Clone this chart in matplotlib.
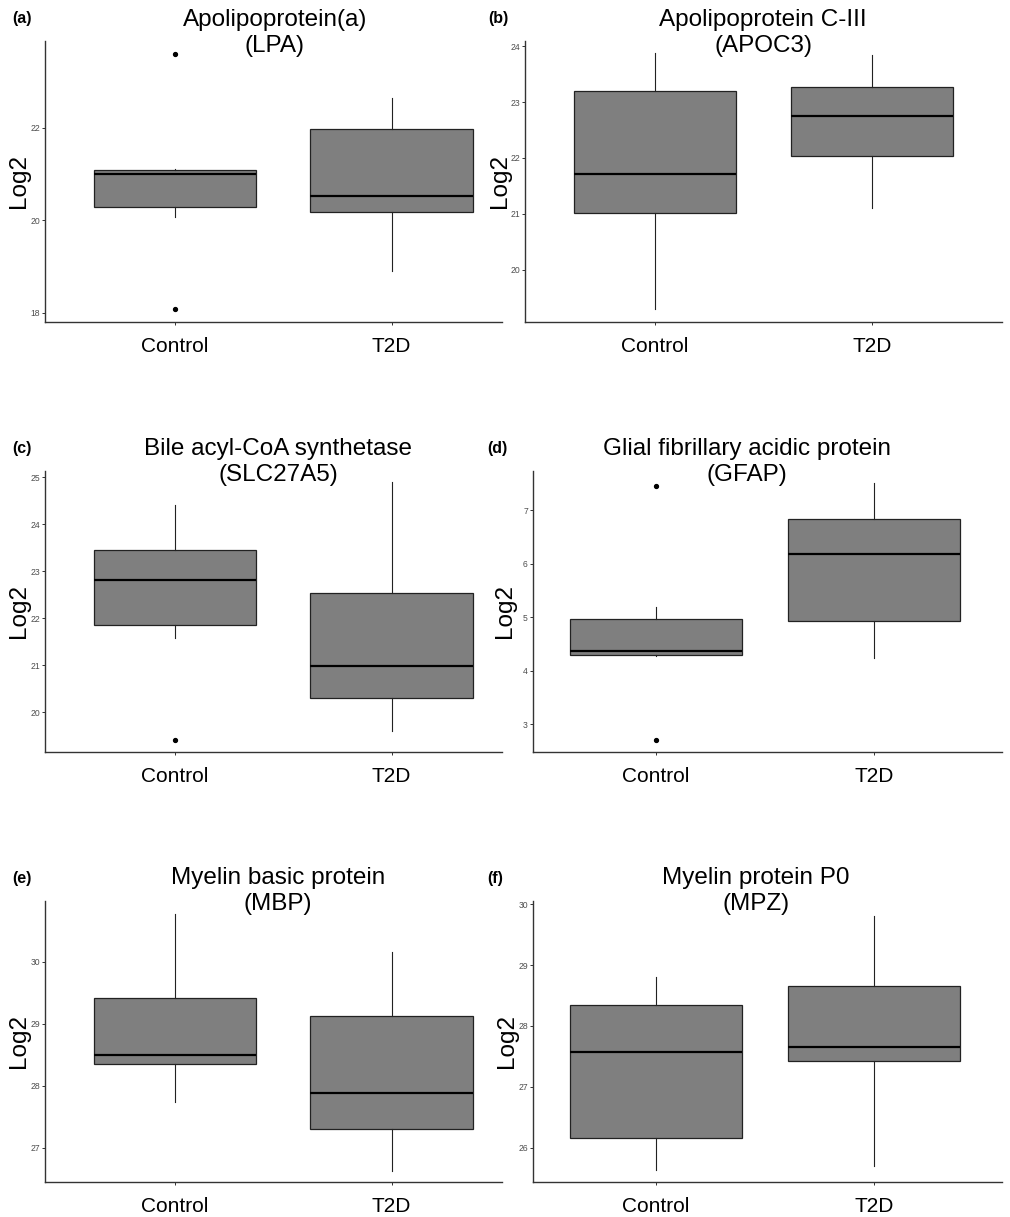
import matplotlib
matplotlib.use("Agg")
import matplotlib.pyplot as plt

plt.rcParams['font.family'] = ['Liberation Sans', 'DejaVu Sans']

groups = ["Control", "T2D"]

titles = ["Apolipoprotein(a)\n(LPA)", "Apolipoprotein C-III\n(APOC3)",
          "Bile acyl-CoA synthetase\n(SLC27A5)", "Glial fibrillary acidic protein\n(GFAP)",
          "Myelin basic protein\n(MBP)", "Myelin protein P0\n(MPZ)"]
panel_tags = ["(a)", "(b)", "(c)", "(d)", "(e)", "(f)"]

# box statistics per panel: [Control, T2D]
q1 = [[20.29, 20.18], [21.02, 22.03], [21.85, 20.30], [4.30, 4.93], [28.35, 27.31], [26.16, 27.42]]
med = [[21.00, 20.53], [21.72, 22.75], [22.82, 20.98], [4.37, 6.18], [28.50, 27.89], [27.57, 27.66]]
q3 = [[21.09, 21.97], [23.20, 23.27], [23.45, 22.53], [4.97, 6.83], [29.42, 29.13], [28.34, 28.66]]
whislo = [[20.08, 18.90], [19.30, 21.10], [21.57, 19.60], [4.27, 4.23], [27.74, 26.63], [25.63, 25.70]]
whishi = [[21.12, 22.64], [23.88, 23.84], [24.40, 24.90], [5.18, 7.50], [30.77, 30.15], [28.80, 29.81]]
fliers = [[[23.60, 18.08], []], [[], []], [[19.40], []], [[7.45, 2.70], []], [[], []], [[], []]]

yticks = [[18, 20, 22], [20, 21, 22, 23, 24], [20, 21, 22, 23, 24, 25],
          [3, 4, 5, 6, 7], [27, 28, 29, 30], [26, 27, 28, 29, 30]]
ytick_labels = [["18", "20", "22"], ["20", "21", "22", "23", "24"],
                ["20", "21", "22", "23", "24", "25"], ["3", "4", "5", "6", "7"],
                ["27", "28", "29", "30"], ["26", "27", "28", "29", "30"]]
ylims = [(17.80, 23.88), (19.07, 24.09), (19.15, 25.13), (2.48, 7.73), (26.45, 30.98), (25.44, 30.05)]

W, H = 1010, 1217
fig = plt.figure(figsize=(W / 100, H / 100), dpi=100)

# layout in pixels: left, top, right, bottom
boxes_px = [(45, 41, 502, 322), (525, 41, 1002, 322),
            (45, 471, 502, 752), (533, 471, 1002, 752),
            (45, 901, 502, 1182), (533, 901, 1002, 1182)]
xlims = [(0.4, 2.51), (0.4, 2.6), (0.4, 2.51), (0.436, 2.587), (0.4, 2.51), (0.436, 2.587)]
widths = [0.75, 0.75, 0.75, 0.79, 0.75, 0.79]
title_x = [275, 763, 278, 747, 278, 756]
title_dy = [8, 8, 9, 9, 10, 10]
tag_pos = [(12, 18), (488, 18), (12, 448), (487, 448), (12, 878), (487, 878)]
ylab_x = [-0.032, -0.030, -0.032, -0.036, -0.032, -0.031]

for i in range(6):
    l, t, r, b = boxes_px[i]
    ax = fig.add_axes([l / W, 1 - b / H, (r - l) / W, (b - t) / H])
    stats = []
    for g in range(2):
        stats.append(dict(med=med[i][g], q1=q1[i][g], q3=q3[i][g],
                          whislo=whislo[i][g], whishi=whishi[i][g],
                          fliers=fliers[i][g], label=groups[g]))
    ax.bxp(stats, positions=[1, 2], widths=widths[i], patch_artist=True,
           showcaps=False,
           boxprops=dict(facecolor='#7f7f7f', edgecolor='#222222', linewidth=0.9),
           medianprops=dict(color='black', linewidth=1.6),
           whiskerprops=dict(color='#222222', linewidth=0.8),
           flierprops=dict(marker='o', markersize=2.8, markerfacecolor='black',
                           markeredgecolor='black', linestyle='none'))
    ax.set_xlim(*xlims[i])
    ax.set_ylim(*ylims[i])
    ax.set_yticks(yticks[i])
    ax.set_yticklabels(ytick_labels[i])
    ax.set_xticks([1, 2])
    ax.set_xticklabels(groups)
    for s in ['top', 'right']:
        ax.spines[s].set_visible(False)
    for s in ['left', 'bottom']:
        ax.spines[s].set_linewidth(1.0)
        ax.spines[s].set_color('#333333')
    ax.tick_params(axis='y', length=2.5, width=0.7, color='#333333',
                   labelsize=6.2, labelcolor='#4d4d4d', pad=1.2)
    ax.tick_params(axis='x', length=2.5, width=0.7, color='#333333',
                   labelsize=15, labelcolor='black', pad=8)
    ax.set_ylabel("Log2", fontsize=17.5)
    ax.yaxis.set_label_coords(ylab_x[i], 0.5)
    fig.text(title_x[i] / W, 1 - (t - title_dy[i]) / H, titles[i], ha='center', va='center',
             fontsize=17.5, linespacing=1.28)
    tx, ty = tag_pos[i]
    fig.text(tx / W, 1 - ty / H, panel_tags[i], ha='left', va='center',
             fontsize=11.5, fontweight='bold')

fig.savefig("out.png", dpi=100, facecolor='white')
